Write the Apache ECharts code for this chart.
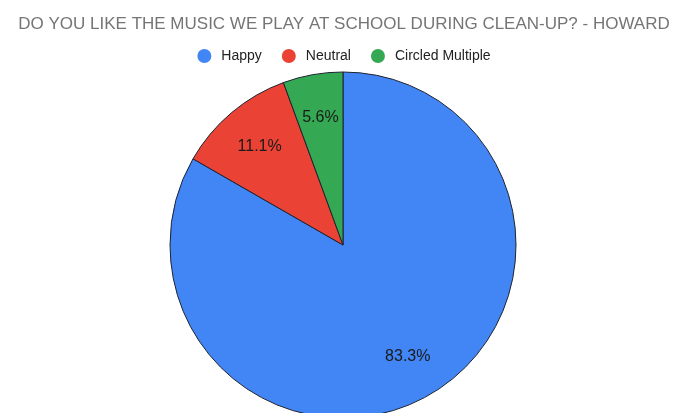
<!DOCTYPE html>
<html>
<head>
<meta charset="utf-8">
<script src="https://cdn.jsdelivr.net/npm/echarts@6/dist/echarts.min.js"></script>
<style>
  html, body { margin: 0; padding: 0; background: #fff; }
  #chart { width: 688px; height: 413px; }
</style>
</head>
<body>
<div id="chart"></div>
<script>
// Survey answers (share of responses, %)
const categories = ['Happy', 'Neutral', 'Circled Multiple'];
const values = [83.3, 11.1, 5.6];
const colors = ['#4285F4', '#EA4335', '#34A853'];
const titleText = 'DO YOU LIKE THE MUSIC WE PLAY AT SCHOOL DURING CLEAN-UP? - HOWARD';

const pieData = categories.map((name, i) => ({
  name: name,
  value: values[i],
  itemStyle: { color: colors[i] }
}));

const center = [343, 245];
const outerR = 173;
const fontFamily = 'Liberation Sans, Arial, sans-serif';

const chart = echarts.init(document.getElementById('chart'), null, { renderer: 'canvas' });
chart.setOption({
  animation: false,
  title: {
    text: titleText,
    left: 'center',
    top: 11,
    textStyle: {
      fontFamily: fontFamily,
      fontSize: 17,
      fontWeight: 'normal',
      color: '#757575'
    }
  },
  legend: {
    data: categories,
    left: 'center',
    top: 44,
    icon: 'circle',
    itemWidth: 14,
    itemHeight: 14,
    itemGap: 20,
    itemStyle: { borderWidth: 0 },
    textStyle: {
      fontFamily: fontFamily,
      fontSize: 14,
      color: '#222',
      padding: [0, 0, 0, 5]
    }
  },
  series: [
    {
      // filled slices
      type: 'pie',
      center: center,
      radius: [0, outerR],
      startAngle: 90,
      clockwise: true,
      silent: true,
      label: { show: false },
      labelLine: { show: false },
      itemStyle: { borderColor: '#1d2330', borderWidth: 1 },
      data: pieData
    },
    {
      // percentage labels set further out than the slice midpoint
      type: 'pie',
      center: center,
      radius: [outerR * 0.46, outerR],
      startAngle: 90,
      clockwise: true,
      silent: true,
      legendHoverLink: false,
      itemStyle: { color: 'rgba(0,0,0,0)', borderWidth: 0 },
      label: {
        show: true,
        position: 'inside',
        formatter: p => p.value.toFixed(1) + '%',
        fontFamily: fontFamily,
        fontSize: 16,
        color: '#1a1a1a'
      },
      labelLine: { show: false },
      data: categories.map((name, i) => ({ name: name, value: values[i] }))
    }
  ]
});
</script>
</body>
</html>
